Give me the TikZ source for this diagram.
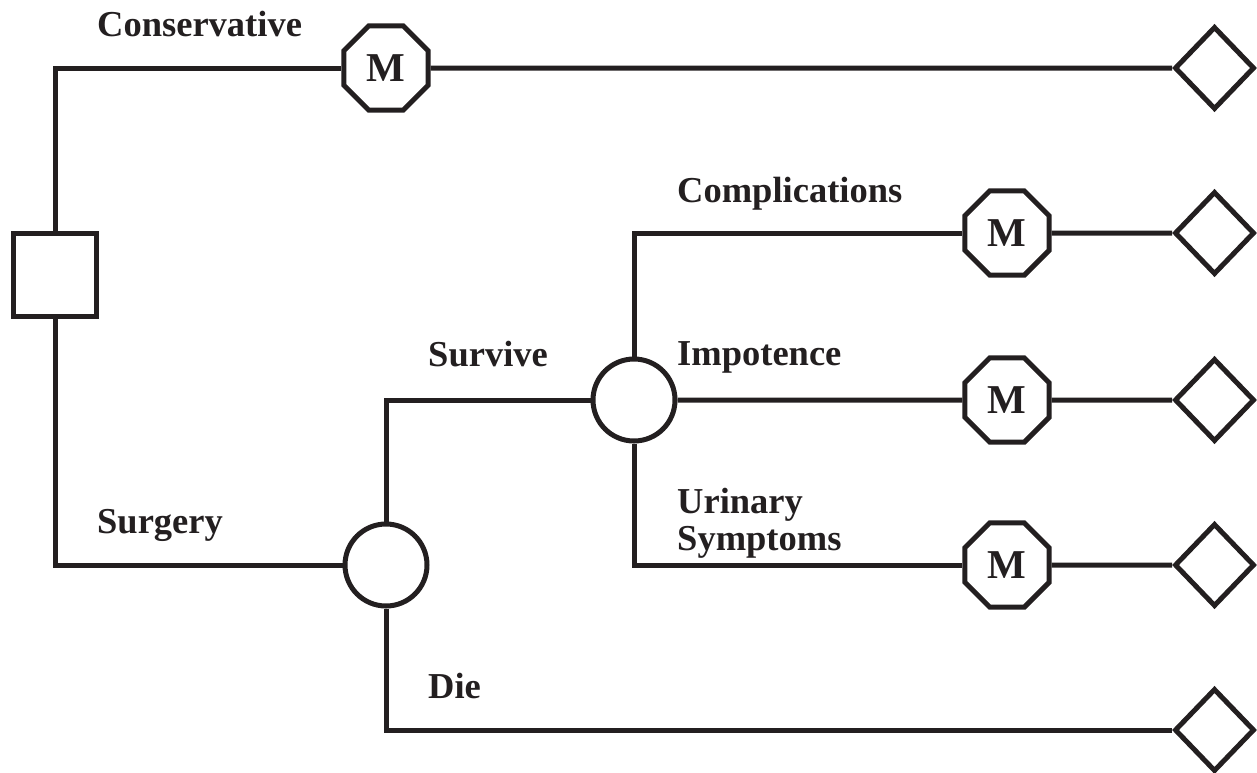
\documentclass[tikz,border=0pt]{standalone}
\usepackage{fontspec}
\setmainfont{Liberation Serif}
\usetikzlibrary{shapes.geometric}
\definecolor{ink}{HTML}{231F20}
\tikzset{
  x=1pt, y=-1pt,
  conn/.style={line width=5pt, draw=ink},
  decision/.style={draw=ink, line width=5pt, minimum width=83pt, minimum height=83pt, inner sep=0pt},
  chance/.style={circle, draw=ink, line width=5pt, minimum size=82pt, inner sep=0pt},
  markov/.style={regular polygon, regular polygon sides=8, draw=ink, line width=5pt, minimum size=91pt, inner sep=0pt, font=\fontsize{41}{41}\selectfont\bfseries, text=ink},
  term/.style={diamond, draw=ink, line width=5pt, minimum width=80pt, minimum height=83pt, inner sep=0pt},
  lbl/.style={anchor=base west, inner sep=0pt, font=\fontsize{36.5}{37}\selectfont\bfseries, text=ink}
}
\begin{document}
\begin{tikzpicture}
\useasboundingbox (0,0) rectangle (1257,772);
\node[decision] (sq) at (55,275) {};
\node[markov] (m1) at (386,68) {M};
\node[chance] (c1) at (386,565) {};
\node[chance] (c2) at (634,400) {};
\node[markov] (m2) at (1007,233) {M};
\node[markov] (m3) at (1007,400) {M};
\node[markov] (m4) at (1007,565) {M};
\node[term] (d1) at (1214.5,68) {};
\node[term] (d2) at (1214.5,233) {};
\node[term] (d3) at (1214.5,400) {};
\node[term] (d4) at (1214.5,565) {};
\node[term] (d5) at (1214.5,730) {};

\draw[conn] (sq.north) |- (m1.west);
\draw[conn] (m1.east) -- (d1.west);
\draw[conn] (sq.south) |- (c1.west);
\draw[conn] (c1.north) |- (c2.west);
\draw[conn] (c1.south) |- (d5.west);
\draw[conn] (c2.north) |- (m2.west);
\draw[conn] (m2.east) -- (d2.west);
\draw[conn] (c2.east) -- (m3.west);
\draw[conn] (m3.east) -- (d3.west);
\draw[conn] (c2.south) |- (m4.west);
\draw[conn] (m4.east) -- (d4.west);

\node[lbl] (lcons) at (97,36) {Conservative};
\node[lbl] (lsurg) at (97,533) {Surgery};
\node[lbl] (lsurv) at (428,366) {Survive};
\node[lbl] (ldie) at (428,698) {Die};
\node[lbl] (lcomp) at (677,202) {Complications};
\node[lbl] (limp) at (677,365) {Impotence};
\node[lbl, align=left] (lur) at (677,550) {Urinary\\Symptoms};
\end{tikzpicture}
\end{document}
